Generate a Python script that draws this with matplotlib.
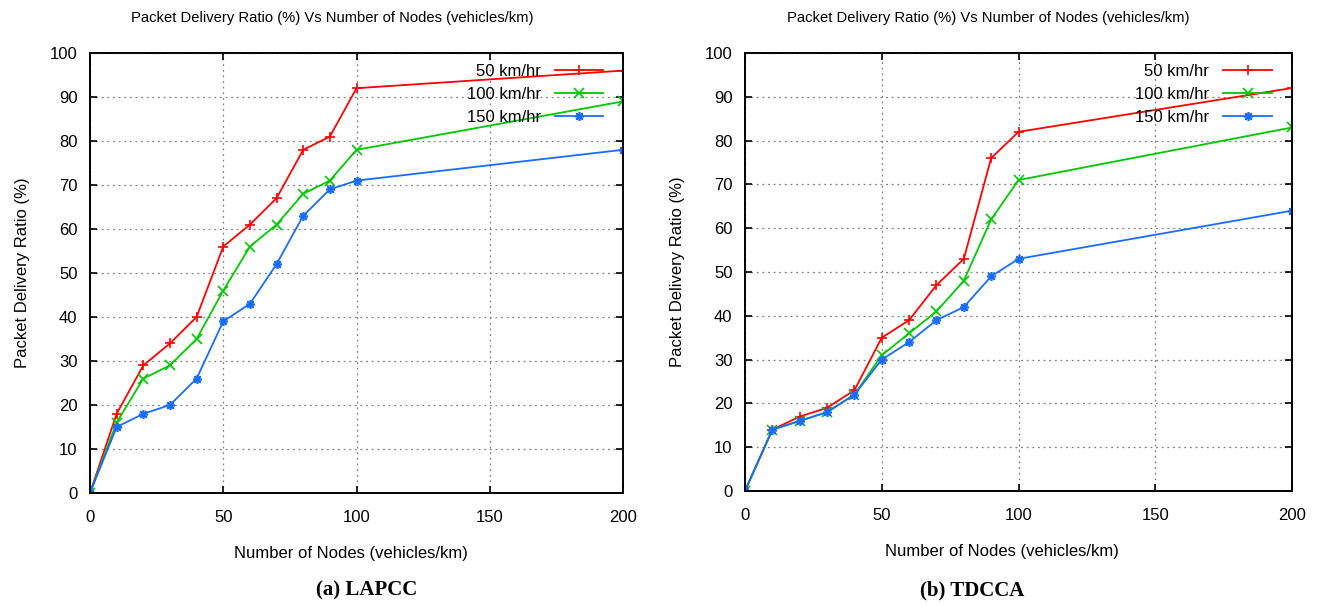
import numpy as np
import matplotlib.pyplot as plt

plt.rcParams['font.family'] = ['Liberation Sans', 'DejaVu Sans']

# node density (vehicles/km)
nodes = [0, 10, 20, 30, 40, 50, 60, 70, 80, 90, 100, 200]
speeds = ['50 km/hr', '100 km/hr', '150 km/hr']

# packet delivery ratio (%) for LAPCC
lapcc_50 = [0, 18, 29, 34, 40, 56, 61, 67, 78, 81, 92, 96]
lapcc_100 = [0, 16, 26, 29, 35, 46, 56, 61, 68, 71, 78, 89]
lapcc_150 = [0, 15, 18, 20, 26, 39, 43, 52, 63, 69, 71, 78]

# packet delivery ratio (%) for TDCCA
tdcca_50 = [0, 14, 17, 19, 23, 35, 39, 47, 53, 76, 82, 92]
tdcca_100 = [0, 14, 16, 18, 22, 31, 36, 41, 48, 62, 71, 83]
tdcca_150 = [0, 14, 16, 18, 22, 30, 34, 39, 42, 49, 53, 64]

colors = ['#ff0000', '#00c800', '#1a6cff']
markers = ['+', 'x', (8, 2, 0)]

title = 'Packet Delivery Ratio (%) Vs Number of Nodes (vehicles/km)'

fig = plt.figure(figsize=(13.2, 6.05), dpi=100)
ax1 = fig.add_axes([90/1320, 1-493/605, 533/1320, 440/605])
ax2 = fig.add_axes([745/1320, 1-491/605, 547/1320, 438/605])


def draw(ax, series, caption, title_x, xlab_x, cap_x):
    for ys, lab, c, m in zip(series, speeds, colors, markers):
        ax.plot(nodes, ys, color=c, marker=m, markersize=6.5, markeredgewidth=1.2,
                linewidth=1.3, label=lab)
    ax.set_xlim(0, 200)
    ax.set_ylim(0, 100)
    ax.set_xticks([0, 50, 100, 150, 200])
    ax.set_yticks(np.arange(0, 101, 10))
    ax.grid(True, linestyle=(0, (1.5, 3)), color='#808080', linewidth=0.9)
    ax.tick_params(direction='in', top=True, right=True, length=5, width=1.2,
                   labelsize=12)
    ax.tick_params(axis='x', pad=12)
    ax.tick_params(axis='y', pad=9)
    for s in ax.spines.values():
        s.set_linewidth(1.4)
    ax.set_xlabel('Number of Nodes (vehicles/km)', fontsize=12)
    ax.xaxis.set_label_coords(xlab_x, -0.121)
    ax.set_ylabel('Packet Delivery Ratio (%)', fontsize=12, labelpad=14)
    ax.legend(loc='upper right', frameon=False, markerfirst=False, fontsize=12,
              handlelength=2.9, labelspacing=0.47, borderaxespad=0, borderpad=0,
              handletextpad=0.85, bbox_to_anchor=(0.963, 0.975))
    for t in ax.get_legend().get_texts():
        t.set_ha('right')
    fig.text(title_x, 1-18/605, title, ha='center', va='center', fontsize=10.6)
    fig.text(cap_x, 1-590/605, caption, ha='center', va='center',
             fontsize=15, fontweight='bold', family='Liberation Serif')


draw(ax1, [lapcc_50, lapcc_100, lapcc_150], '(a) LAPCC', 332/1320, 0.49, 367/1320)
draw(ax2, [tdcca_50, tdcca_100, tdcca_150], '(b) TDCCA', 988/1320, 0.47, 972/1320)

fig.savefig('out.png', dpi=100)
